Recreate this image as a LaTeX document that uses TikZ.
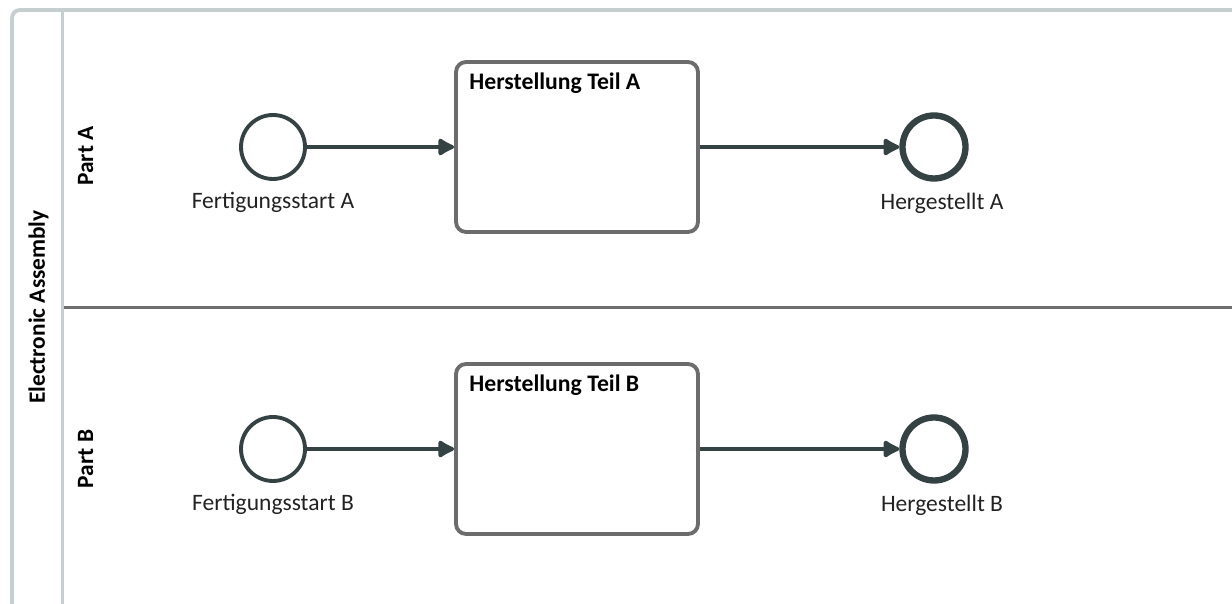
\documentclass[tikz,border=0pt]{standalone}
\usepackage{fontspec}
\setmainfont{Carlito}
\usetikzlibrary{arrows.meta,positioning}
\definecolor{poolgray}{RGB}{197,207,207}
\definecolor{lanegray}{RGB}{110,110,110}
\definecolor{taskgray}{RGB}{108,108,108}
\definecolor{evdark}{RGB}{52,66,68}
\definecolor{txtdark}{RGB}{34,34,34}

\begin{document}
\begin{tikzpicture}[x=0.02cm,y=0.02cm,
  startev/.style={circle,draw=evdark,line width=2.2pt,fill=white,minimum size=1.28cm,inner sep=0pt},
  endev/.style={circle,draw=evdark,line width=3.6pt,fill=white,minimum size=1.26cm,inner sep=0pt},
  task/.style={draw=taskgray,line width=2.2pt,rounded corners=0.2cm,fill=white,minimum width=4.84cm,minimum height=3.4cm,inner sep=0pt},
  flow/.style={draw=evdark,line width=2.2pt,-{Latex[length=11pt,width=12pt,round]}},
  evlabel/.style={font=\fontsize{13.4}{15}\selectfont,text=txtdark},
  tasklabel/.style={font=\fontsize{13.5}{15}\selectfont\bfseries,text=black,anchor=north west,inner sep=0pt},
  lanelabel/.style={font=\fontsize{13.3}{15}\selectfont\bfseries,text=black,rotate=90,anchor=base,inner sep=0pt}]
\useasboundingbox (0,0) rectangle (1232,-604);
\clip (0,0) rectangle (1232,-604);

%Pool
\draw[poolgray,line width=2.2pt,rounded corners=0.16cm] (12,-10) rectangle (1260,-612);
\draw[poolgray,line width=2.2pt] (62.5,-10) -- (62.5,-612);
\node[lanelabel] (pool) at (45,-307) {Electronic Assembly};

%Lane divider
\draw[lanegray,line width=2pt] (64,-307.5) -- (1232,-307.5);

%Lane A
\node[lanelabel] (laneA) at (93,-156) {Part A};
\node[startev,label={[evlabel,label distance=0.1cm]below:Fertigungsstart A}] (startA) at (273,-147) {};
\node[task] (taskA) at (577,-147) {};
\node[tasklabel] (taskAtext) at ([xshift=0.3cm,yshift=-0.24cm]taskA.north west) {Herstellung Teil A};
\node[endev,label={[evlabel,label distance=0.1cm,xshift=0.16cm]below:Hergestellt A}] (endA) at (934,-147) {};
\draw[flow] (startA) -- (taskA);
\draw[flow] (taskA) -- (endA);

%Lane B
\node[lanelabel] (laneB) at (93,-459) {Part B};
\node[startev,label={[evlabel,label distance=0.1cm]below:Fertigungsstart B}] (startB) at (273,-449) {};
\node[task] (taskB) at (577,-449) {};
\node[tasklabel] (taskBtext) at ([xshift=0.3cm,yshift=-0.24cm]taskB.north west) {Herstellung Teil B};
\node[endev,label={[evlabel,label distance=0.1cm,xshift=0.16cm]below:Hergestellt B}] (endB) at (934,-449) {};
\draw[flow] (startB) -- (taskB);
\draw[flow] (taskB) -- (endB);
\end{tikzpicture}
\end{document}
